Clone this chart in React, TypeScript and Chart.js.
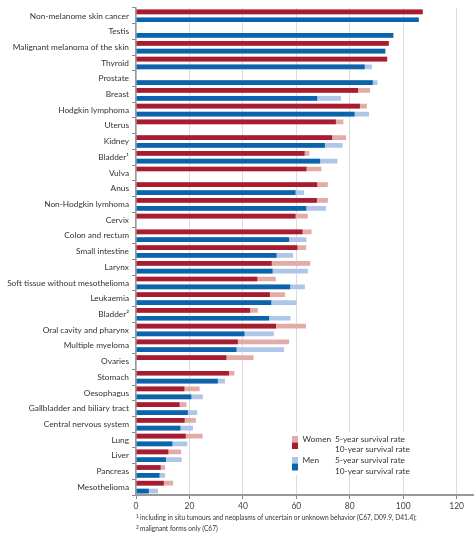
import React, { useEffect, useRef } from "react";
import { Chart, registerables } from "chart.js";

Chart.register(...registerables);

const categories = [
  "Non-melanome skin cancer",
  "Testis",
  "Malignant melanoma of the skin",
  "Thyroid",
  "Prostate",
  "Breast",
  "Hodgkin lymphoma",
  "Uterus",
  "Kidney",
  "Bladder¹",
  "Vulva",
  "Anus",
  "Non-Hodgkin lymhoma",
  "Cervix",
  "Colon and rectum",
  "Small intestine",
  "Larynx",
  "Soft tissue without mesothelioma",
  "Leukaemia",
  "Bladder²",
  "Oral cavity and pharynx",
  "Multiple myeloma",
  "Ovaries",
  "Stomach",
  "Oesophagus",
  "Gallbladder and biliary tract",
  "Central nervous system",
  "Lung",
  "Liver",
  "Pancreas",
  "Mesothelioma",
];

const women5 = [107.3, null, 94.6, 94.0, null, 87.6, 86.4, 77.6, 78.6, 64.9, 69.4, 71.8, 71.8, 64.3, 65.7, 63.7, 65.2, 52.3, 55.8, 45.6, 63.6, 57.3, 44.0, 36.8, 23.8, 18.9, 22.4, 24.9, 16.9, 10.9, 13.9];
const women10 = [107.3, null, 94.6, 94.0, null, 83.1, 83.8, 74.8, 73.4, 63.1, 63.8, 67.8, 67.7, 59.7, 62.3, 60.4, 50.8, 45.4, 50.1, 42.7, 52.4, 38.1, 33.8, 34.8, 18.1, 16.3, 18.2, 18.6, 12.1, 9.2, 10.4];
const men5 = [105.8, 96.3, 93.3, 88.3, 90.4, 76.7, 87.2, null, 77.3, 75.4, null, 62.9, 71.1, null, 63.8, 58.8, 64.3, 63.2, 60.1, 57.8, 51.6, 55.4, null, 33.3, 25.0, 22.9, 21.3, 19.2, 17.1, 10.9, 8.2];
const men10 = [105.8, 96.3, 93.3, 85.6, 88.6, 67.8, 81.8, null, 70.7, 68.9, null, 59.7, 63.7, null, 57.3, 52.6, 51.1, 57.7, 50.6, 49.8, 40.6, 37.6, null, 30.6, 20.7, 19.4, 16.6, 13.6, 11.2, 8.8, 4.8];

const xTicks = [0, 20, 40, 60, 80, 100, 120];

const legendLabels = {
  women: "Women",
  men: "Men",
  five: "5-year survival rate",
  ten: "10-year survival rate",
};
const footnotes = [
  { mark: "1", text: "including in situ tumours and neoplasms of uncertain or unknown behavior (C67, D09.9, D41.4);" },
  { mark: "2", text: "malignant forms only (C67)" },
];

const COLORS = {
  w10: "#A81C32",
  w5: "#E3ABA8",
  m10: "#0B64AB",
  m5: "#AEC6E7",
};

const FONT = "Lato, 'Open Sans', sans-serif";

const overlayPlugin = {
  id: "overlay",
  afterDraw(chart: any) {
    const ctx = chart.ctx;
    const area = chart.chartArea;
    ctx.save();
    // legend box
    ctx.fillStyle = "#ffffff";
    ctx.fillRect(288, 432, 146, 43);
    const sq = (x: number, y: number, h: number, c: string) => {
      ctx.fillStyle = c;
      ctx.fillRect(x, y, 6, h);
    };
    sq(292, 436, 6.5, COLORS.w5);
    sq(292, 442.5, 6.5, COLORS.w10);
    sq(292, 457, 6.5, COLORS.m5);
    sq(292, 463.5, 7, COLORS.m10);
    ctx.fillStyle = "#333333";
    ctx.font = `8.3px ${FONT}`;
    ctx.textBaseline = "middle";
    ctx.textAlign = "left";
    ctx.fillText(legendLabels.women, 302.5, 439);
    ctx.fillText(legendLabels.five, 335, 439);
    ctx.fillText(legendLabels.ten, 335, 449.5);
    ctx.fillText(legendLabels.men, 302.5, 460.5);
    ctx.fillText(legendLabels.five, 335, 460.5);
    ctx.fillText(legendLabels.ten, 335, 471);

    // footnotes
    const fx = area.left;
    footnotes.forEach((f, i) => {
      const y = 518 + i * 11;
      ctx.font = `5px ${FONT}`;
      ctx.fillText(f.mark, fx, y - 2);
      ctx.font = `6.6px ${FONT}`;
      ctx.fillText(f.text, fx + 4, y);
    });
    ctx.restore();
  },
};

export default function App() {
  const ref = useRef<HTMLCanvasElement>(null);
  useEffect(() => {
    if (!ref.current) return;
    const chart = new Chart(ref.current, {
      type: "bar",
      data: {
        labels: categories,
        datasets: [
          { label: "Women 10-year", data: women10, backgroundColor: COLORS.w10, stack: "w" },
          { label: "Men 10-year", data: men10, backgroundColor: COLORS.m10, stack: "m" },
          { label: "Women 5-year", data: women5, backgroundColor: COLORS.w5, stack: "w" },
          { label: "Men 5-year", data: men5, backgroundColor: COLORS.m5, stack: "m" },
        ] as any,
      },
      options: {
        indexAxis: "y",
        responsive: false,
        animation: false,
        maintainAspectRatio: false,
        layout: { padding: { top: 0, right: 0, bottom: 23, left: 0 } },
        datasets: {
          bar: {
            categoryPercentage: 1.0,
            barPercentage: 0.6,
            borderWidth: 0,
          },
        },
        plugins: {
          legend: { display: false },
          tooltip: { enabled: false },
        },
        scales: {
          x: {
            type: "linear",
            stacked: false,
            min: 0,
            max: 126.5,
            afterBuildTicks: (axis: any) => {
              axis.ticks = xTicks.map((v) => ({ value: v }));
            },
            afterFit: (s: any) => {
              s.height = 15;
            },
            grid: {
              color: "#dcdcdc",
              lineWidth: 1,
              drawTicks: true,
              tickLength: 4,
              tickColor: "#888888",
            },
            border: { display: true, color: "#9a9a9a", width: 2 },
            ticks: {
              padding: 2,
              color: "#444444",
              font: { size: 8.5, family: FONT },
              maxRotation: 0,
            },
          },
          y: {
            type: "category",
            stacked: true,
            afterFit: (s: any) => {
              s.width = 136;
            },
            grid: {
              drawOnChartArea: false,
              drawTicks: true,
              tickLength: 4,
              tickColor: "#888888",
              offset: true,
            },
            border: { display: true, color: "#9a9a9a", width: 1.5 },
            ticks: {
              padding: 3,
              color: "#333333",
              font: { size: 8.3, family: FONT },
              autoSkip: false,
            },
          },
        },
      },
      plugins: [overlayPlugin],
    });
    return () => chart.destroy();
  }, []);
  return (
    <div style={{ position: "absolute", left: 0, top: 0, width: 474, height: 533 }}>
      <canvas ref={ref} width={474} height={533} style={{ display: "block" }} />
    </div>
  );
}
